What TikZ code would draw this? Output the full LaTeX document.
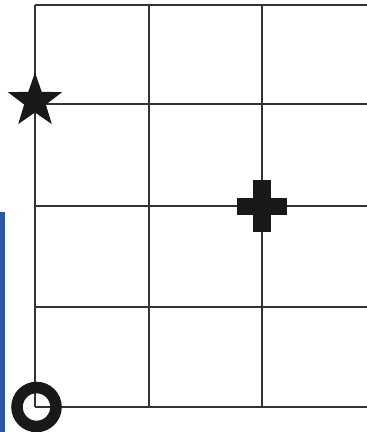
\documentclass[tikz,border=0pt]{standalone}
\usetikzlibrary{shapes.geometric}
\definecolor{gridc}{HTML}{333333}
\definecolor{barblue}{HTML}{2B56A6}
\begin{document}
\begin{tikzpicture}[x=1pt,y=-1pt,
  gridline/.style={draw=gridc,line width=1.8pt},
  markfill/.style={fill=black!90,draw=none}]
\useasboundingbox (0,0) rectangle (367,432);
\fill[barblue] (0,212) rectangle (4.5,432);
% grid
\foreach \x in {35,149,262} \draw[gridline] (\x,5) -- (\x,407);
\foreach \y in {5,104,206,307,407} \draw[gridline] (35,\y) -- (367,\y);
% star
\node[star,star points=5,star point ratio=2.5,markfill,inner sep=0pt,minimum size=57pt] (star) at (35,101) {};
% plus
\fill[black!90] (253,180) rectangle (271,232);
\fill[black!90] (237,197.5) rectangle (287,214.5);
\coordinate (plus) at (262,206);
% ring
\draw[black!90,line width=11.5pt] (36.5,407) circle (19.5pt);
\end{tikzpicture}
\end{document}
